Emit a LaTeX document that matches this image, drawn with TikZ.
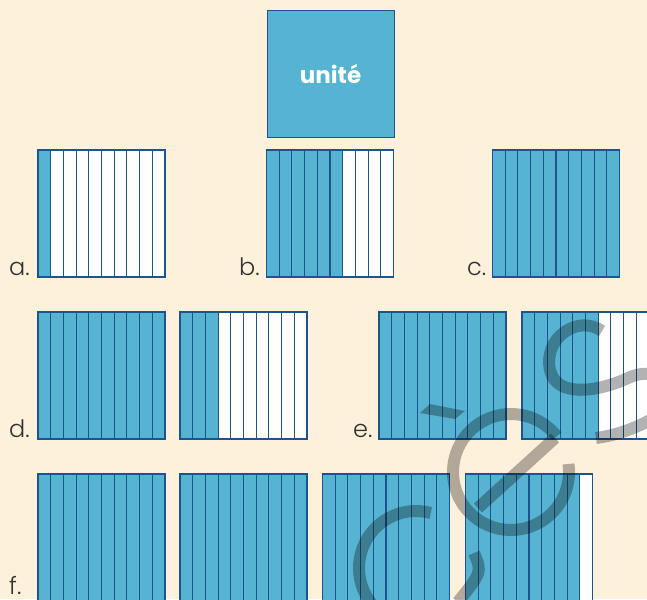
\documentclass[tikz,border=0pt]{standalone}
\usepackage{fontspec}
\setmainfont{Poppins}[UprightFont=* Light,BoldFont=* Bold]
\definecolor{fond}{RGB}{254,241,220}
\definecolor{bleu}{RGB}{86,180,210}
\definecolor{trait}{RGB}{28,84,144}
\definecolor{texte}{RGB}{50,50,50}

\begin{document}
\begin{tikzpicture}[x=1pt,y=-1pt,
  bande/.style={draw=trait,line width=1.1pt},
  pleine/.style={bande,fill=bleu},
  lettre/.style={anchor=base west,inner sep=0pt,text=texte,font=\fontsize{24}{24}\selectfont},
  filigrane/.style={draw=black,draw opacity=0.3,line width=12pt}]
\useasboundingbox (0,0) rectangle (647,599);
\fill[fond] (0,0) rectangle (647,599);
\clip (0,0) rectangle (647,599);
\node[pleine,minimum size=127pt,inner sep=0pt,anchor=north west,text=white,
   font=\bfseries\fontsize{23}{23}\selectfont] (unite) at (266.5,10) {unité};
\foreach \x/\y/\n in %
{38/150/1,266.5/150/6,492.5/150/10,38/312/10,180/312/3,379/312/10,522/312/6,%
 38/474/10,180/474/10,322.5/474/10,465.5/474/9} {
   \foreach \k in {0,...,9} {
      \ifnum\k<\n \def\coul{bleu}\else\def\coul{white}\fi
      \draw[bande,fill=\coul] (\x+\k*12.7,\y) rectangle +(12.7,127);
   }
}
\node[lettre] (a) at (9,275) {a.};
\node[lettre] (b) at (239,275) {b.};
\node[lettre] (c) at (467,275) {c.};
\node[lettre] (d) at (9,437) {d.};
\node[lettre] (e) at (353,437) {e.};
\node[lettre] (f) at (9,594) {f.};
% filigrane
\draw[filigrane] (416,568) ++(-75:57) arc[start angle=-75,end angle=-250,radius=57];
\draw[filigrane] (474,553) .. controls (482,572) .. (458,602);
\fill[black,opacity=0.3] (420,413) -- (430,404) -- (465,411) -- (455,419) -- cycle;
\draw[filigrane] (511,472) ++(-38:58) arc[start angle=-38,end angle=-368,radius=58];
\draw[filigrane] (478,508) -- (555,438);
\draw[filigrane] (602,331) .. controls (578,314) and (543,338) .. (550,370)
   .. controls (556,398) and (598,392) .. (628,378)
   .. controls (668,360) and (680,405) .. (650,420)
   .. controls (632,430) and (612,436) .. (596,438);
\end{tikzpicture}
\end{document}
